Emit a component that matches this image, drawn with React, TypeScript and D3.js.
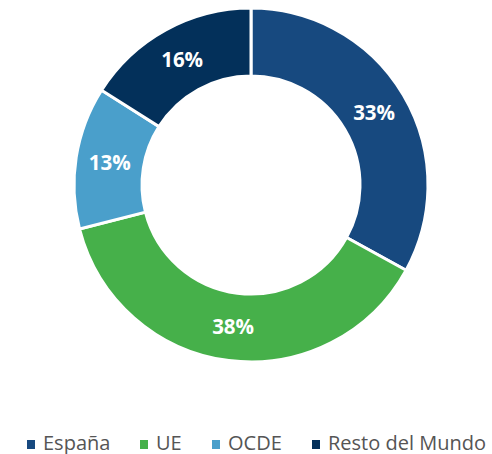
import React from "react";
import * as d3 from "d3";

const categories = ["España", "UE", "OCDE", "Resto del Mundo"];
const values = [33, 38, 13, 16];
const colors = ["#17497f", "#46b04a", "#4a9fcb", "#03305a"];

export default function App() {
  const W = 492, H = 454;
  const cx = 251, cy = 185, outerR = 177, innerR = 109;
  const pie = d3.pie<number>().sort(null).value((d) => d);
  const arcs = pie(values);
  const arc = d3.arc<d3.PieArcDatum<number>>().innerRadius(innerR).outerRadius(outerR);
  const legendX = [27, 140, 212, 312];
  return (
    <svg width={W} height={H} style={{ position: "absolute", left: 0, top: 0 }}
      fontFamily="'Open Sans', sans-serif">
      <g transform={`translate(${cx},${cy})`}>
        {arcs.map((a, i) => (
          <path key={i} d={arc(a) || ""} fill={colors[i]} stroke="#fff" strokeWidth={3} />
        ))}
        {arcs.map((a, i) => {
          const [x, y] = arc.centroid(a);
          return (
            <text key={i} x={x} y={y} dy="0.36em" textAnchor="middle" fill="#fff"
              fontSize={20.5} fontWeight={700}>{values[i]}%</text>
          );
        })}
      </g>
      {categories.map((c, i) => (
        <g key={c} transform={`translate(${legendX[i]},0)`}>
          <rect x={0} y={440} width={8} height={9} fill={colors[i]} />
          <text x={16} y={450} fontSize={20} fill="#555">{c}</text>
        </g>
      ))}
    </svg>
  );
}
